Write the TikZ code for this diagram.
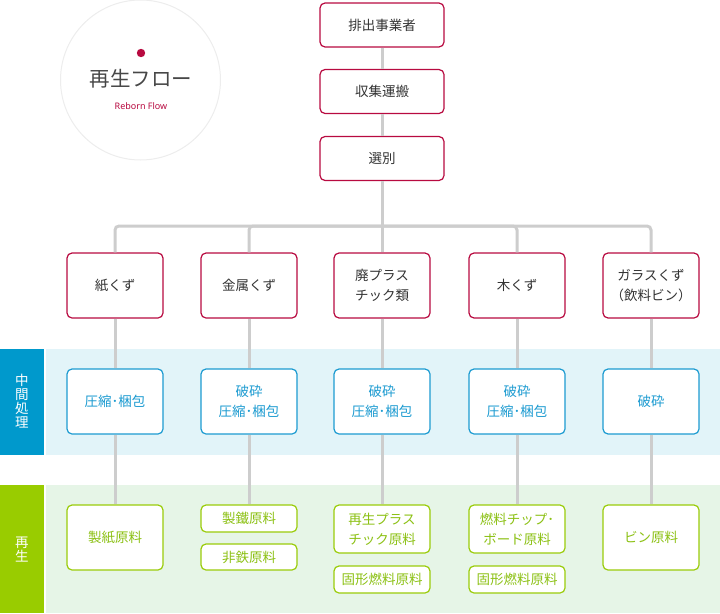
\documentclass[tikz,border=0pt]{standalone}
\usepackage{fontspec}
\setmainfont{Noto Sans CJK JP}
\newfontfamily\latinfont{Noto Sans}
\usetikzlibrary{positioning}
\definecolor{flowred}{HTML}{B80A40}
\definecolor{flowtext}{HTML}{333333}
\definecolor{flowgray}{HTML}{CDCDCD}
\definecolor{flowblue}{HTML}{1C9BD1}
\definecolor{labelblue}{HTML}{0099CC}
\definecolor{bandblue}{HTML}{E2F4F9}
\definecolor{flowgreen}{HTML}{9ACC0A}
\definecolor{greentext}{HTML}{8CC114}
\definecolor{labelgreen}{HTML}{99CC00}
\definecolor{bandgreen}{HTML}{E6F5E7}

\begin{document}
\begin{tikzpicture}[x=1pt,y=-1pt,
    box/.style={draw=flowred,line width=1.2pt,rounded corners=5pt,fill=white,
      minimum width=96pt,minimum height=65pt,inner sep=2pt,align=center,
      text=flowtext,font=\fontsize{13.5}{20}\selectfont},
    topbox/.style={box,minimum width=124pt,minimum height=44pt},
    midbox/.style={box,draw=flowblue,text=flowblue},
    endbox/.style={box,draw=flowgreen,text=greentext},
    bandlabel/.style={text=white,align=center,font=\fontsize{13.5}{14}\selectfont},
    link/.style={draw=flowgray,line width=3pt}]
\useasboundingbox (0,0) rectangle (720,613);
\begin{scope}
    \fill[bandblue] (46,349) rectangle (720,455);
    \fill[labelblue] (0,349) rectangle (44,455);
    \node[bandlabel] (midlabel) at (22,401) {中\\間\\処\\理};
    \fill[bandgreen] (46,485) rectangle (720,613);
    \fill[labelgreen] (0,485) rectangle (44,613);
    \node[bandlabel] (rebornlabel) at (22,550) {再\\生};
  \end{scope}
\draw[black!7,fill=white,line width=1pt] (140.5,80) circle (80pt);
\fill[flowred] (141,53) circle (4.2pt);
\node[text=black!72,font=\fontsize{20.5}{24}\selectfont] (title) at (141,79) {再生フロー};
\node[text=flowred,font=\latinfont\fontsize{9}{10}\selectfont] (subtitle) at (141,106) {Reborn Flow};
\node[topbox] (emitter) at (382,25) {排出事業者};
\node[topbox] (collect) at (382,91.5) {収集運搬};
\node[topbox] (sort) at (382,158.5) {選別};
\coordinate (hub) at (382,226);
\foreach \x/\name/\cat/\mid in {115/paper/紙くず/圧縮･梱包, 249/metal/金属くず/{破砕\\圧縮･梱包},
    382/plastic/{廃プラス\\チック類}/{破砕\\圧縮･梱包}, 517/wood/木くず/{破砕\\圧縮･梱包},
    651/glass/{ガラスくず\\（飲料ビン）}/破砕}
  {
    \node[box] (cat-\name) at (\x,285.5) {\cat};
    \node[midbox] (mid-\name) at (\x,401.5) {\mid};
  }
\node[endbox] (paper-end) at (115,537.5) {製紙原料};
\node[endbox,minimum height=27pt] (metal-end) at (249,518.5) {製鐵原料};
\node[endbox,minimum height=26pt] (metal-end2) at (249,557) {非鉄原料};
\node[endbox,minimum height=48pt] (plastic-end) at (382,529) {再生プラス\\チック原料};
\node[endbox,minimum height=27pt] (plastic-end2) at (382,579.5) {固形燃料原料};
\node[endbox,minimum height=48pt] (wood-end) at (517,529) {燃料チップ･\\ボード原料};
\node[endbox,minimum height=27pt] (wood-end2) at (517,579.5) {固形燃料原料};
\node[endbox] (glass-end) at (651,537.5) {ビン原料};
\draw[link] (emitter.south) -- (collect.north);
\draw[link] (collect.south) -- (sort.north);
\draw[link] (sort.south) -- (hub);
\foreach \name in {paper,metal,plastic,wood,glass}
  {
    \draw[link,rounded corners=4pt] (hub) -| (cat-\name.north);
    \draw[link] (cat-\name.south) -- (mid-\name.north);
    \draw[link] (mid-\name.south) -- (\name-end.north);
  }
\end{tikzpicture}
\end{document}
